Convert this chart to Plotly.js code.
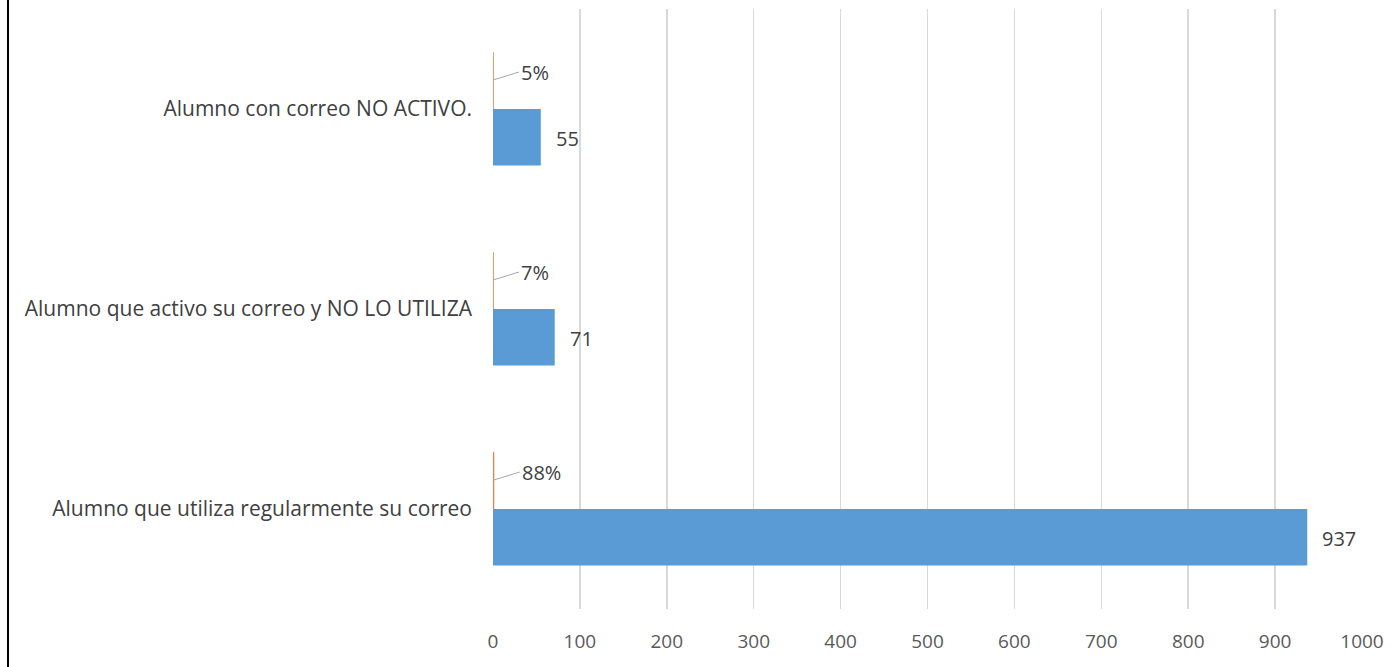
<!DOCTYPE html>
<html>
<head>
<meta charset="utf-8">
<script src="https://cdn.plot.ly/plotly-3.0.1.min.js"></script>
<style>
  html, body { margin: 0; padding: 0; background: #fff; }
  #chart { width: 1397px; height: 667px; position: relative; }
  #frame { position: absolute; left: 7px; top: 0; width: 2px; height: 667px; background: #000; z-index: 5; }
</style>
</head>
<body>
<div id="frame"></div>
<div id="chart"></div>
<script>
const categories = [
  "Alumno que utiliza regularmente su correo",
  "Alumno que activo su correo y NO LO UTILIZA",
  "Alumno con correo NO ACTIVO."
];
const counts = [937, 71, 55];
const percents = [0.88, 0.07, 0.05];
const xTicks = [0, 100, 200, 300, 400, 500, 600, 700, 800, 900, 1000];

const FONT = "Open Sans, sans-serif";

const traces = [
  {
    type: "bar", orientation: "h",
    y: categories, x: counts,
    marker: { color: "#5b9bd5" },
    hoverinfo: "x+y", showlegend: false
  },
  {
    type: "bar", orientation: "h",
    y: categories, x: percents,
    marker: { color: "#ed7d31", line: { color: "#ed7d31", width: 1 } },
    hoverinfo: "x+y", showlegend: false
  }
];

const annotations = [];
categories.forEach((c, i) => {
  annotations.push({
    x: counts[i], y: c, xref: "x", yref: "y",
    text: String(counts[i]), showarrow: false,
    xanchor: "left", yanchor: "middle", xshift: 13, yshift: -29,
    font: { family: FONT, size: 20, color: "#404040" }
  });
  annotations.push({
    x: percents[i], y: c, xref: "x", yref: "y",
    text: Math.round(percents[i] * 100) + "%",
    showarrow: true, arrowhead: 0, arrowwidth: 1, arrowcolor: "#a6a6a6",
    ax: 26, ay: -8, xanchor: "left", yanchor: "middle",
    yshift: 29,
    font: { family: FONT, size: 20, color: "#404040" }
  });
});

const layout = {
  width: 1397, height: 667,
  margin: { l: 493, r: 35, t: 9, b: 58 },
  paper_bgcolor: "#fff", plot_bgcolor: "#fff",
  barmode: "group", bargap: 0.435, bargroupgap: 0,
  font: { family: FONT, size: 19, color: "#595959" },
  xaxis: {
    range: [0, 1000], tickvals: xTicks, ticktext: xTicks.map(String),
    showgrid: true, gridcolor: "#d9d9d9", gridwidth: 1.5,
    zeroline: false, showline: false, ticks: "",
    ticklabelstandoff: 19,
    tickfont: { family: FONT, size: 19, color: "#595959" }
  },
  yaxis: {
    type: "category", categoryorder: "array", categoryarray: categories,
    range: [-0.5, 2.5], showgrid: false, zeroline: false, showline: false,
    ticks: "", ticklabelstandoff: 20,
    tickfont: { family: FONT, size: 21, color: "#404040" }
  },
  annotations: annotations,
  showlegend: false
};

Plotly.newPlot("chart", traces, layout, { displayModeBar: false, staticPlot: true });
</script>
</body>
</html>
